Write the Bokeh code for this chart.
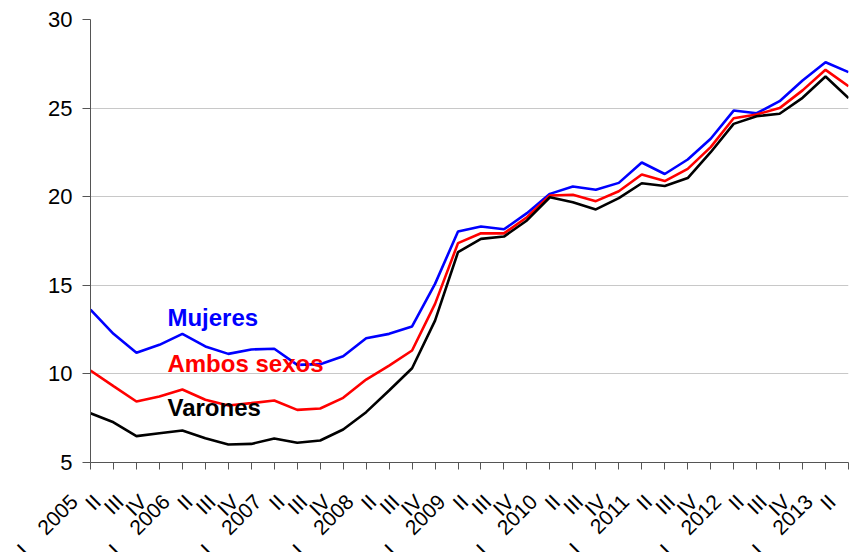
from math import pi
from bokeh.plotting import figure
from bokeh.models import FixedTicker, Range1d, Label
from bokeh.embed import file_html
from bokeh.resources import INLINE

years = ["2005", "2006", "2007", "2008", "2009", "2010", "2011", "2012", "2013"]
quarters = ["I", "II", "III", "IV"]
periods = [(y, q) for y in years for q in quarters][:34]

mujeres = [13.63, 12.26, 11.19, 11.64, 12.26, 11.55, 11.13, 11.38, 11.42, 10.51,
           10.55, 11.00, 12.01, 12.26, 12.68, 15.08, 18.04, 18.32, 18.16, 19.07,
           20.16, 20.58, 20.39, 20.78, 21.93, 21.28, 22.10, 23.27, 24.86, 24.71,
           25.39, 26.56, 27.59, 27.03]
ambos = [10.19, 9.31, 8.44, 8.72, 9.12, 8.54, 8.22, 8.35, 8.50, 7.97,
         8.05, 8.65, 9.68, 10.47, 11.32, 13.95, 17.38, 17.94, 17.93, 18.84,
         20.07, 20.11, 19.75, 20.31, 21.25, 20.88, 21.57, 22.80, 24.43, 24.64,
         25.00, 26.00, 27.16, 26.24]
varones = [7.78, 7.27, 6.49, 6.65, 6.81, 6.37, 6.02, 6.05, 6.35, 6.11,
           6.24, 6.86, 7.84, 9.06, 10.32, 13.01, 16.87, 17.62, 17.75, 18.66,
           19.97, 19.69, 19.28, 19.92, 20.76, 20.60, 21.05, 22.51, 24.11, 24.54,
           24.68, 25.58, 26.78, 25.56]

series_names = ["Mujeres", "Ambos sexos", "Varones"]
series_colors = ["#0000ff", "#ff0000", "#000000"]

NB = "\u00a0"
x = list(range(len(periods)))
tick_labels = {}
for i, (y, q) in enumerate(periods):
    if q == "I":
        tick_labels[i] = q + NB * 4 + y + NB * 4
    else:
        tick_labels[i] = q + NB * 4

FONT = "Liberation Sans"

p = figure(frame_width=758, frame_height=443, output_backend="svg",
           toolbar_location=None,
           x_range=Range1d(0, len(periods) - 1), y_range=Range1d(5, 30),
           min_border_left=90, min_border_right=8, min_border_top=19,
           min_border_bottom=10)
p.outline_line_color = None
p.background_fill_color = "white"
p.border_fill_color = "white"
p.xgrid.visible = False
p.ygrid.grid_line_color = "#c8c8c8"
p.ygrid.grid_line_width = 1

p.yaxis.ticker = FixedTicker(ticks=[5, 10, 15, 20, 25, 30])
p.yaxis.minor_tick_line_color = None
p.yaxis.major_tick_out = 8
p.yaxis.major_tick_in = 0
p.yaxis.major_label_standoff = 10
p.yaxis.major_label_text_font = FONT
p.yaxis.major_label_text_font_size = "22px"
p.yaxis.major_label_text_color = "#000000"
p.yaxis.axis_line_color = "#555555"
p.yaxis.major_tick_line_color = "#555555"

p.xaxis.ticker = FixedTicker(ticks=x)
p.xaxis.major_label_overrides = tick_labels
p.xaxis.major_label_orientation = pi / 4
p.xaxis.minor_tick_line_color = None
p.xaxis.major_tick_out = 7
p.xaxis.major_tick_in = 0
p.xaxis.major_label_standoff = 12
p.xaxis.major_label_text_font = FONT
p.xaxis.major_label_text_font_size = "21px"
p.xaxis.major_label_text_color = "#000000"
p.xaxis.axis_line_color = "#555555"
p.xaxis.major_tick_line_color = "#555555"

for vals, col in zip([mujeres, ambos, varones], series_colors):
    p.line(x, vals, line_color=col, line_width=2.6)

label_pos = [(3.35, 13.18), (3.35, 10.59), (3.35, 8.10)]
for name, col, (lx, ly) in zip(series_names, series_colors, label_pos):
    p.add_layout(Label(x=lx, y=ly, text=name, text_color=col, text_font=FONT,
                       text_font_style="bold", text_font_size="24px",
                       text_baseline="alphabetic"))

open("out.html", "w").write(file_html(p, INLINE))
